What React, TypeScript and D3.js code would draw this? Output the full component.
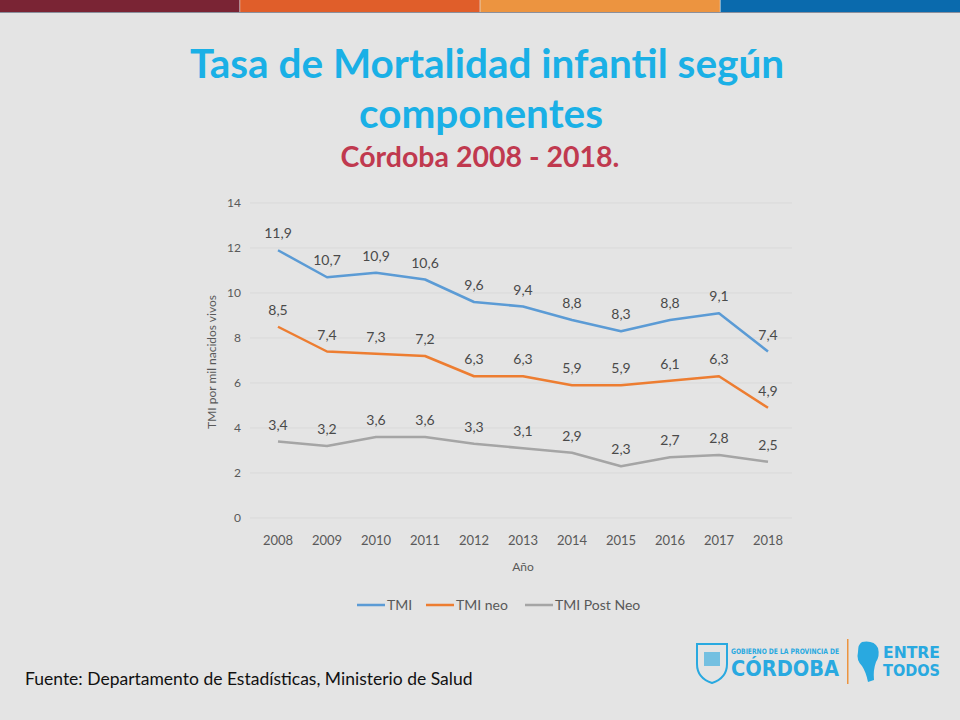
import * as d3 from 'd3';
import { useEffect, useRef } from 'react';

const years = ['2008', '2009', '2010', '2011', '2012', '2013', '2014', '2015', '2016', '2017', '2018'];
const tmi = [11.9, 10.7, 10.9, 10.6, 9.6, 9.4, 8.8, 8.3, 8.8, 9.1, 7.4];
const tmiNeo = [8.5, 7.4, 7.3, 7.2, 6.3, 6.3, 5.9, 5.9, 6.1, 6.3, 4.9];
const tmiPostNeo = [3.4, 3.2, 3.6, 3.6, 3.3, 3.1, 2.9, 2.3, 2.7, 2.8, 2.5];
const seriesNames = ['TMI', 'TMI neo', 'TMI Post Neo'];
const seriesColors = ['#5b9bd5', '#ed7d31', '#a5a5a5'];
const yTicks = [0, 2, 4, 6, 8, 10, 12, 14];
const barColors = ['#7a2434', '#e05e2a', '#ec9440', '#0a6aad'];

const App = () => {
  const ref = useRef<SVGSVGElement | null>(null);

  useEffect(() => {
    const width = 960;
    const height = 720;
    const svg = d3.select(ref.current).attr('width', width).attr('height', height);
    svg.selectAll('*').remove();

    const font = 'Lato, "Open Sans", sans-serif';

    svg.append('rect').attr('width', width).attr('height', height).attr('fill', '#e4e4e4');

    // top colour band
    const band = d3.scaleBand<number>().domain([0, 1, 2, 3]).range([0, width]).paddingInner(0.003);
    svg
      .selectAll('rect.band')
      .data(barColors)
      .join('rect')
      .attr('x', (_, i) => band(i)!)
      .attr('y', 0)
      .attr('width', band.bandwidth())
      .attr('height', 12)
      .attr('fill', (d) => d);
    svg.append('rect').attr('x', 0).attr('y', 12).attr('width', width).attr('height', 1).attr('fill', '#8a8f9c');

    // titles
    svg
      .append('text')
      .attr('x', 487)
      .attr('y', 78)
      .attr('text-anchor', 'middle')
      .attr('font-family', font)
      .attr('font-weight', 'bold')
      .attr('font-size', 40.5)
      .attr('fill', '#1ab0e6')
      .text('Tasa de Mortalidad infantil según');
    svg
      .append('text')
      .attr('x', 481)
      .attr('y', 128)
      .attr('text-anchor', 'middle')
      .attr('font-family', font)
      .attr('font-weight', 'bold')
      .attr('font-size', 40.5)
      .attr('fill', '#1ab0e6')
      .text('componentes');
    svg
      .append('text')
      .attr('x', 480)
      .attr('y', 167)
      .attr('text-anchor', 'middle')
      .attr('font-family', font)
      .attr('font-weight', 'bold')
      .attr('font-size', 28.5)
      .attr('fill', '#c0394f')
      .text('Córdoba 2008 - 2018.');

    // scales
    const x = d3.scalePoint<string>().domain(years).range([278, 768]);
    const y = d3.scaleLinear().domain([0, 14]).range([518, 203]);

    // grid
    svg
      .append('g')
      .selectAll('line')
      .data(yTicks)
      .join('line')
      .attr('x1', 250)
      .attr('x2', 792)
      .attr('y1', (d) => y(d))
      .attr('y2', (d) => y(d))
      .attr('stroke', '#d9d9d9')
      .attr('stroke-width', 1);

    // y tick labels
    svg
      .append('g')
      .selectAll('text')
      .data(yTicks)
      .join('text')
      .attr('x', 241)
      .attr('y', (d) => y(d) + 4)
      .attr('text-anchor', 'end')
      .attr('font-family', font)
      .attr('font-size', 12)
      .attr('fill', '#595959')
      .text((d) => d);

    // x tick labels
    svg
      .append('g')
      .selectAll('text')
      .data(years)
      .join('text')
      .attr('x', (d) => x(d)!)
      .attr('y', 545)
      .attr('text-anchor', 'middle')
      .attr('font-family', font)
      .attr('font-size', 13)
      .attr('fill', '#595959')
      .text((d) => d);

    // axis titles
    svg
      .append('text')
      .attr('x', 523)
      .attr('y', 571)
      .attr('text-anchor', 'middle')
      .attr('font-family', font)
      .attr('font-size', 12)
      .attr('fill', '#595959')
      .text('Año');
    svg
      .append('text')
      .attr('transform', 'translate(216,362) rotate(-90)')
      .attr('text-anchor', 'middle')
      .attr('font-family', font)
      .attr('font-size', 12)
      .attr('fill', '#595959')
      .text('TMI por mil nacidos vivos');

    const series = [tmi, tmiNeo, tmiPostNeo];
    const line = d3
      .line<number>()
      .x((_, i) => x(years[i])!)
      .y((d) => y(d));

    series.forEach((vals, si) => {
      svg
        .append('path')
        .attr('d', line(vals))
        .attr('fill', 'none')
        .attr('stroke', seriesColors[si])
        .attr('stroke-width', 2.5)
        .attr('stroke-linejoin', 'round');
      svg
        .append('g')
        .selectAll('text')
        .data(vals)
        .join('text')
        .attr('x', (_, i) => x(years[i])!)
        .attr('y', (d) => y(d) - 12)
        .attr('text-anchor', 'middle')
        .attr('font-family', font)
        .attr('font-size', 14)
        .attr('fill', '#4a4a4a')
        .text((d) => d.toFixed(1).replace('.', ','));
    });

    // legend
    const legendX = [357, 426, 525];
    seriesNames.forEach((name, i) => {
      const g = svg.append('g').attr('transform', `translate(${legendX[i]},605)`);
      g.append('line').attr('x1', 0).attr('x2', 28).attr('stroke', seriesColors[i]).attr('stroke-width', 2.5);
      g.append('text')
        .attr('x', 30)
        .attr('y', 5)
        .attr('font-family', font)
        .attr('font-size', 14)
        .attr('fill', '#595959')
        .text(name);
    });

    // source
    svg
      .append('text')
      .attr('x', 25)
      .attr('y', 685)
      .attr('font-family', font)
      .attr('font-size', 17.5)
      .attr('fill', '#111')
      .text('Fuente: Departamento de Estadísticas, Ministerio de Salud');

    // logo
    const logoFont = '"DejaVu Sans Condensed", "DejaVu Sans", sans-serif';
    const logo = svg.append('g').attr('fill', '#29a9e0');
    logo
      .append('path')
      .attr('d', 'M697,644 h30 v20 q0,14 -15,19 q-15,-5 -15,-19 z')
      .attr('fill', 'none')
      .attr('stroke', '#29a9e0')
      .attr('stroke-width', 2);
    logo.append('rect').attr('x', 704).attr('y', 652).attr('width', 16).attr('height', 14).attr('fill', '#29a9e0').attr('opacity', 0.6);
    logo
      .append('text')
      .attr('x', 731)
      .attr('y', 654)
      .attr('font-family', logoFont)
      .attr('font-weight', 'bold')
      .attr('font-size', 7.5)
      .attr('textLength', 108)
      .attr('lengthAdjust', 'spacingAndGlyphs')
      .text('GOBIERNO DE LA PROVINCIA DE');
    logo
      .append('text')
      .attr('x', 731)
      .attr('y', 676)
      .attr('font-family', logoFont)
      .attr('font-weight', 'bold')
      .attr('font-size', 22)
      .attr('textLength', 108)
      .attr('lengthAdjust', 'spacingAndGlyphs')
      .text('CÓRDOBA');
    logo.append('rect').attr('x', 847).attr('y', 639).attr('width', 1.5).attr('height', 45).attr('fill', '#ec9440');
    logo
      .append('path')
      .attr('d', 'M862,642 q12,-2 16,6 q2,8 -2,14 q-3,8 -2,18 l-6,2 q-2,-10 -6,-16 q-6,-6 -4,-14 q0,-8 4,-10 z');
    logo
      .append('text')
      .attr('x', 883)
      .attr('y', 658)
      .attr('font-family', logoFont)
      .attr('font-weight', 'bold')
      .attr('font-size', 15)
      .attr('textLength', 57)
      .attr('lengthAdjust', 'spacingAndGlyphs')
      .text('ENTRE');
    logo
      .append('text')
      .attr('x', 883)
      .attr('y', 676)
      .attr('font-family', logoFont)
      .attr('font-weight', 'bold')
      .attr('font-size', 15)
      .attr('textLength', 57)
      .attr('lengthAdjust', 'spacingAndGlyphs')
      .text('TODOS');
  }, []);

  return <svg ref={ref} style={{ display: 'block', position: 'absolute', left: 0, top: 0 }}></svg>;
};

export default App;
